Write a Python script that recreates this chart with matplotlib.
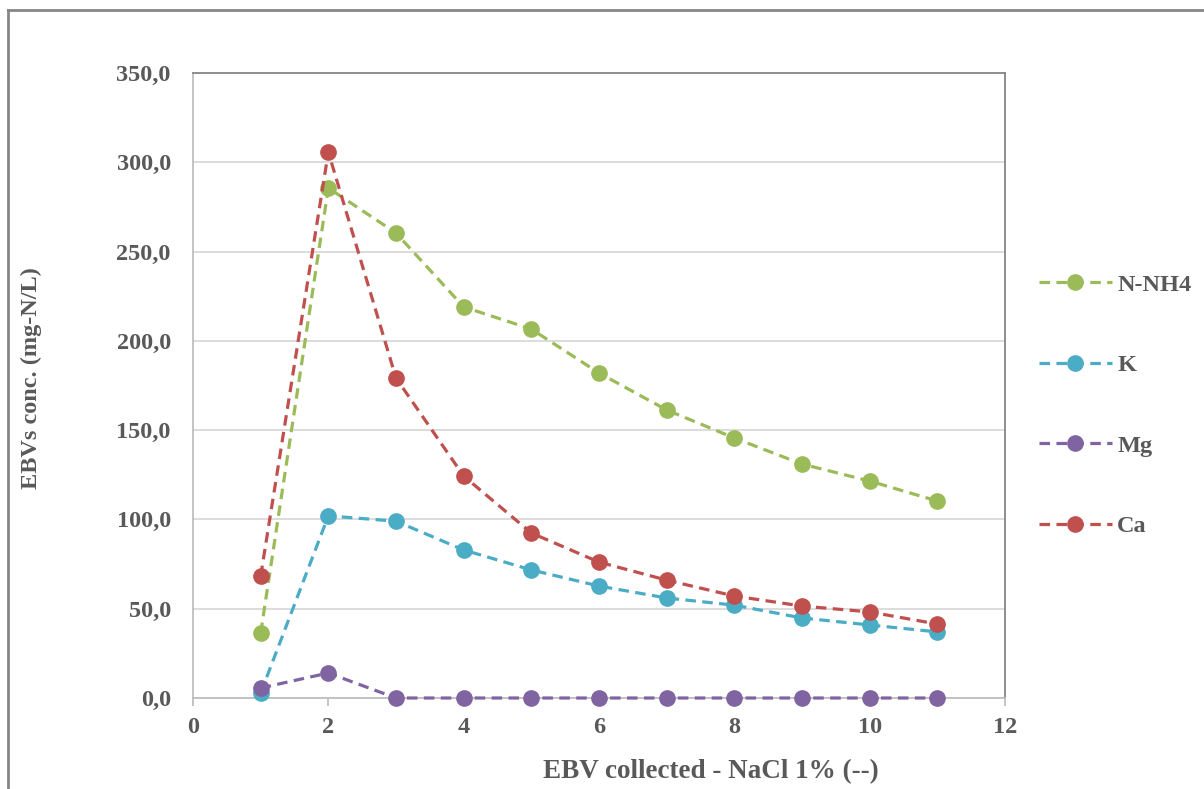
import matplotlib.pyplot as plt
from matplotlib.lines import Line2D
from matplotlib.ticker import FuncFormatter

x = [1, 2, 3, 4, 5, 6, 7, 8, 9, 10, 11]
nnh4 = [36.4, 285.6, 260.4, 219.0, 206.6, 182.0, 161.3, 145.6, 131.0, 121.5, 110.3]
k = [2.8, 102.0, 99.0, 82.9, 71.7, 62.7, 56.0, 52.0, 44.8, 40.9, 37.0]
mg = [5.6, 14.0, 0.0, 0.0, 0.0, 0.0, 0.0, 0.0, 0.0, 0.0, 0.0]
ca = [68.3, 305.7, 179.2, 124.3, 92.4, 76.1, 66.0, 57.1, 51.5, 48.2, 41.4]

series = [('N-NH4', nnh4, '#9BBB59'), ('K', k, '#4BACC6'),
          ('Mg', mg, '#8064A2'), ('Ca', ca, '#C0504D')]

grey = '#595959'
font = 'Liberation Serif'
plt.rcParams['font.family'] = [font, 'DejaVu Serif']

fig = plt.figure(figsize=(12.04, 7.89), dpi=100)
ax = fig.add_axes([193/1204, 1-698/789, (1005-193)/1204, (698-73)/789])

for name, vals, col in series:
    ax.plot(x, vals, color=col, lw=2.3, ls=(0, (3.3, 2)), marker='o',
            markersize=11, label=name, clip_on=False, zorder=3)

ax.set_xlim(0, 12)
ax.set_ylim(0, 350)
ax.set_xticks(range(0, 13, 2))
ax.set_yticks(range(0, 351, 50))
ax.yaxis.set_major_formatter(FuncFormatter(lambda v, p: f'{v:.1f}'.replace('.', ',')))
ax.grid(axis='y', color='#d9d9d9', lw=1.3, zorder=0)
ax.set_axisbelow(True)

for s in ['left', 'bottom']:
    ax.spines[s].set_color('#bfbfbf')
    ax.spines[s].set_linewidth(1.3)
for s in ['top', 'right']:
    ax.spines[s].set_color('#868686')
    ax.spines[s].set_linewidth(1.3)

ax.tick_params(axis='x', direction='out', length=6, width=1.3, color='#bfbfbf',
               labelsize=17.5, labelcolor=grey, pad=8)
ax.tick_params(axis='y', length=0, labelsize=17.5, labelcolor=grey, pad=16)
for lab in ax.get_xticklabels() + ax.get_yticklabels():
    lab.set_fontweight('bold')

fig.text(711/1204, 1-772/789, 'EBV collected - NaCl 1% (--)', ha='center', va='center',
         fontsize=19.5, fontweight='bold', color=grey)
fig.text(31/1204, 1-378/789, 'EBVs conc. (mg-N/L)', ha='center', va='center',
         rotation=90, fontsize=17.5, fontweight='bold', color=grey)

leg = fig.legend(loc='center left', bbox_to_anchor=(1017/1204, 1-405.5/789), frameon=False,
                 handlelength=3.0, labelspacing=2.4, handletextpad=0.22,
                 prop={'family': font, 'weight': 'bold', 'size': 17.5})
for t in leg.get_texts():
    t.set_color(grey)

# outer chart border (top and left only visible)
fig.add_artist(Line2D([8/1204, 1], [1-10/789, 1-10/789], transform=fig.transFigure,
                      color='#868686', lw=2))
fig.add_artist(Line2D([8/1204, 8/1204], [0, 1-10/789], transform=fig.transFigure,
                      color='#868686', lw=2))

fig.savefig('out.png', dpi=100)
